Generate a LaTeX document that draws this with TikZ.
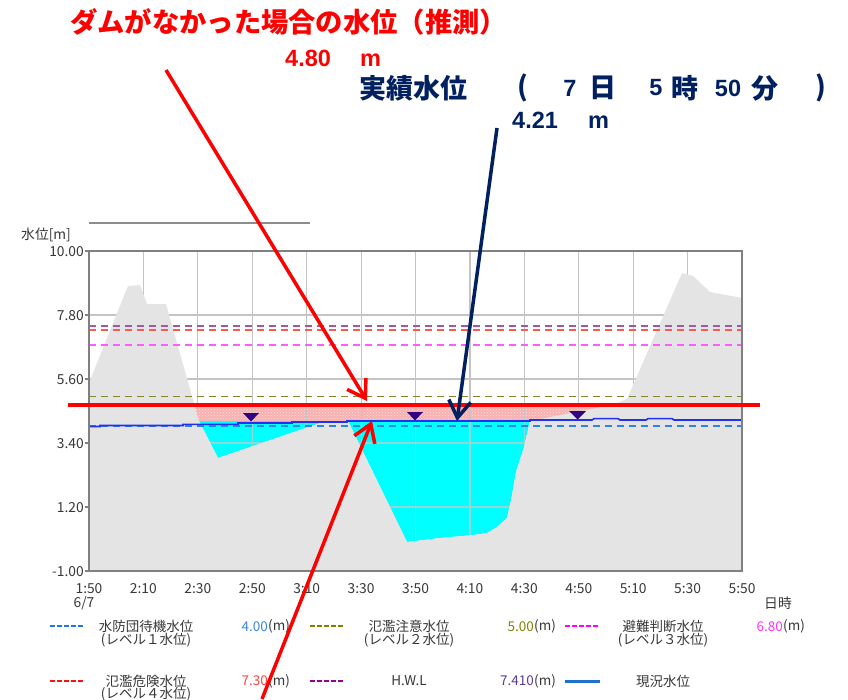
\documentclass[tikz,border=0pt]{standalone}
\usepackage{fontspec}
\setmainfont{Noto Sans CJK JP}
\newfontfamily\arialf{Liberation Sans}
\usetikzlibrary{patterns,arrows.meta}
\definecolor{navy}{HTML}{002060}
\definecolor{gridc}{HTML}{C4C4C4}
\definecolor{gridcy}{HTML}{8FD8D8}
\definecolor{groundc}{HTML}{E4E4E4}
\definecolor{pinkc}{HTML}{F7B0B0}
\definecolor{cyanc}{HTML}{00FFFF}
\definecolor{framec}{HTML}{808080}
\definecolor{txtc}{HTML}{383838}
\definecolor{lvA}{HTML}{2A84E8}
\definecolor{lvB}{HTML}{858530}
\definecolor{lvC}{HTML}{FF5CFF}
\definecolor{lvD}{HTML}{F85A5A}
\definecolor{lvE}{HTML}{A855A8}
\definecolor{lgA}{HTML}{1E78E0}
\definecolor{lgB}{HTML}{808000}
\definecolor{lgC}{HTML}{FF00FF}
\definecolor{lgD}{HTML}{FF1010}
\definecolor{lgE}{HTML}{990099}
\definecolor{nA}{HTML}{3C86DC}
\definecolor{nB}{HTML}{808000}
\definecolor{nC}{HTML}{FF33FF}
\definecolor{nD}{HTML}{FF4444}
\definecolor{nE}{HTML}{5A3CA0}
\definecolor{curc}{HTML}{1E32F0}
\definecolor{curlg}{HTML}{2070D0}
\definecolor{markc}{HTML}{300080}
\tikzset{
  gridline/.style={draw=gridc, line width=1.2pt},
  gridcyan/.style={draw=gridcy, line width=1.2pt},
  lvline/.style={dash pattern=on 7pt off 5pt, line width=2pt},
  lgline/.style={dash pattern=on 4.5pt off 2.6pt, line width=2.2pt},
  axlab/.style={inner sep=0pt, text=txtc, font=\fontsize{13.8}{15}\selectfont},
  lgtxt/.style={inner sep=0pt, text=txtc, font=\fontsize{13.5}{15}\selectfont},
  lgnum/.style={inner sep=0pt, font=\fontsize{13.5}{15}\selectfont},
  bigjp/.style={inner sep=0pt, font=\bfseries\fontsize{27}{30}\selectfont},
  bignum/.style={inner sep=0pt, font=\arialf\bfseries\fontsize{23.5}{26}\selectfont},
  arrowln/.style={line width=3.5pt, -{Straight Barb[length=17pt,width=22pt,line width=3.5pt]}},
  marktri/.style={fill=markc}
}
\begin{document}
\begin{tikzpicture}[x=1pt,y=-1pt]
\useasboundingbox (0,0) rectangle (848,699);
\fill[white] (0,0) rectangle (848,699);

% pink estimated band
\fill[pinkc] (190,405) rectangle (620,421);
\fill[pattern=crosshatch dots, pattern color=white!60!pinkc] (190,405) rectangle (620,421);

% cyan regions
\fill[cyanc] (199,421) -- (326,421) -- (218,458) -- cycle;
\fill[cyanc] (348,421) -- (530,421) -- (524,447) -- (516,472) -- (511,500) -- (507,518) -- (497,527) -- (487,533) -- (473,535) -- (440,538) -- (407,542) -- cycle;

% grid
\foreach \gx in {143.4,197.8,252.3,306.7,361.1,415.5,469.9,524.3,578.8,633.2,687.6}
  \draw[gridline] (\gx,251) -- (\gx,571);
\foreach \gy in {315,379,443,507}
  \draw[gridline] (89,\gy) -- (742,\gy);
\begin{scope}
\clip (199,421) -- (326,421) -- (218,458) -- cycle
      (348,421) -- (530,421) -- (524,447) -- (516,472) -- (511,500) -- (507,518) -- (497,527) -- (487,533) -- (473,535) -- (440,538) -- (407,542) -- cycle;
\foreach \gx in {143.4,197.8,252.3,306.7,361.1,415.5,469.9,524.3,578.8,633.2,687.6}
  \draw[gridcyan] (\gx,251) -- (\gx,571);
\foreach \gy in {315,379,443,507}
  \draw[gridcyan] (89,\gy) -- (742,\gy);
\end{scope}

% gray ground
\fill[groundc] (89,383) -- (128,286) -- (140,285) -- (147,304) -- (166,304) -- (199,421) -- (218,458) -- (326,421) -- (348,421) -- (407,542) -- (440,538) -- (473,535) -- (487,533) -- (497,527) -- (507,518) -- (511,500) -- (516,472) -- (524,447) -- (530,421) -- (612,405) -- (627,399) -- (682,273) -- (693,276) -- (710,292) -- (742,298) -- (742,571) -- (89,571) -- cycle;

% level lines
\draw[lvline, draw=lvE] (89,326.3) -- (742,326.3);
\draw[lvline, draw=lvD] (89,329.8) -- (742,329.8);
\draw[lvline, draw=lvC] (89,344.5) -- (742,344.5);
\draw[lvline, draw=lvB, line width=1.5pt] (89,396.5) -- (742,396.5);
\draw[lvline, draw=lvA, line width=1.5pt] (89,425.8) -- (742,425.8);

% current water level
\draw[curc, line width=1.6pt] (89,426.5) -- (100,426.5) -- (100,425.5) -- (183,425.5) -- (183,424.3) -- (238,424.3) -- (238,423) -- (292,423) -- (292,422) -- (347,422) -- (347,421) -- (530,421) -- (530,420) -- (592,420) -- (594,418.6) -- (618,418.6) -- (620,420) -- (646,420) -- (648,418.6) -- (672,418.6) -- (674,420) -- (742,420);

% markers
\fill[marktri] (243,413) -- (259,413) -- (251,421.5) -- cycle;
\fill[marktri] (407,412) -- (423,412) -- (415,420.5) -- cycle;
\fill[marktri] (569,411) -- (586,411) -- (577.5,419.5) -- cycle;

% frame
\draw[framec, line width=1.8pt] (89,251) rectangle (742,571);
\foreach \ty in {251,315,379,443,507,571}
  \draw[framec, line width=1.5pt] (85,\ty) -- (89,\ty);
\draw[framec!90, line width=1.3pt] (89,223) -- (310,223);

% axis labels
\node[axlab, anchor=west] (ylab) at (21,235) {水位[m]};
\node[axlab, anchor=east] (y1) at (84,252) {10.00};
\node[axlab, anchor=east] (y2) at (84,316) {7.80};
\node[axlab, anchor=east] (y3) at (84,380) {5.60};
\node[axlab, anchor=east] (y4) at (84,444) {3.40};
\node[axlab, anchor=east] (y5) at (84,508) {1.20};
\node[axlab, anchor=east] (y6) at (84,572) {-1.00};
\node[axlab] (x1) at (89,589) {1:50};
\node[axlab] (x2) at (143.4,589) {2:10};
\node[axlab] (x3) at (197.8,589) {2:30};
\node[axlab] (x4) at (252.3,589) {2:50};
\node[axlab] (x5) at (306.7,589) {3:10};
\node[axlab] (x6) at (361.1,589) {3:30};
\node[axlab] (x7) at (415.5,589) {3:50};
\node[axlab] (x8) at (469.9,589) {4:10};
\node[axlab] (x9) at (524.3,589) {4:30};
\node[axlab] (x10) at (578.8,589) {4:50};
\node[axlab] (x11) at (633.2,589) {5:10};
\node[axlab] (x12) at (687.6,589) {5:30};
\node[axlab] (x13) at (742,589) {5:50};
\node[axlab] (date) at (84,603) {6/7};
\node[axlab] (nichiji) at (778,603) {日時};

% legend
\draw[lgline, draw=lgA] (50,626) -- (85,626);
\node[lgtxt] (lA1) at (146,626.5) {水防団待機水位};
\node[lgtxt] (lA2) at (146,640) {(レベル１水位)};
\node[lgnum, text=nA, anchor=east] (nA1) at (268,626.5) {4.00};
\node[lgtxt, anchor=west] (mA) at (268,626.5) {(m)};

\draw[lgline, draw=lgB] (310,626) -- (345,626);
\node[lgtxt] (lB1) at (409,626.5) {氾濫注意水位};
\node[lgtxt] (lB2) at (409,640) {(レベル２水位)};
\node[lgnum, text=nB, anchor=east] (nB1) at (534,626.5) {5.00};
\node[lgtxt, anchor=west] (mB) at (534,626.5) {(m)};

\draw[lgline, draw=lgC] (565,626) -- (600,626);
\node[lgtxt] (lC1) at (663,626.5) {避難判断水位};
\node[lgtxt] (lC2) at (663,640) {(レベル３水位)};
\node[lgnum, text=nC, anchor=east] (nC1) at (783,626.5) {6.80};
\node[lgtxt, anchor=west] (mC) at (783,626.5) {(m)};

\draw[lgline, draw=lgD] (50,681) -- (85,681);
\node[lgtxt] (lD1) at (146,681) {氾濫危険水位};
\node[lgtxt] (lD2) at (146,694) {(レベル４水位)};
\node[lgnum, text=nD, anchor=east] (nD1) at (268,681) {7.30};
\node[lgtxt, anchor=west] (mD) at (268,681) {(m)};

\draw[lgline, draw=lgE] (310,681) -- (345,681);
\node[lgtxt] (lE1) at (409,681) {H.W.L};
\node[lgnum, text=nE, anchor=east] (nE1) at (534,681) {7.410};
\node[lgtxt, anchor=west] (mE) at (534,681) {(m)};

\draw[curlg, line width=3pt] (565,681) -- (600,681);
\node[lgtxt] (lF1) at (663,681) {現況水位};

% red estimate line
\draw[red, line width=4pt] (68,405) -- (760,405);

% header texts
\node[bigjp, text=red, anchor=west, font=\bfseries\fontsize{27.3}{30}\selectfont] (title) at (70,22) {ダムがなかった場合の水位（推測）};
\node[bignum, text=red, anchor=base west] (est) at (285,66) {4.80};
\node[bignum, text=red, anchor=base west] (estm) at (360,66) {m};
\node[bigjp, text=navy, anchor=west] (jis) at (359,88) {実績水位};
\node[bigjp, text=navy] (pl) at (523,88) {(};
\node[bignum, text=navy] (d7) at (570,88) {7};
\node[bigjp, text=navy] (hi) at (603,88) {日};
\node[bignum, text=navy] (h5) at (656,88) {5};
\node[bigjp, text=navy] (ji) at (685,88) {時};
\node[bignum, text=navy] (m50) at (728,88) {50};
\node[bigjp, text=navy] (fun) at (765,88) {分};
\node[bigjp, text=navy] (pr) at (821,88) {)};
\node[bignum, text=navy, anchor=base west] (act) at (512,128.5) {4.21};
\node[bignum, text=navy, anchor=base west] (actm) at (588,128.5) {m};

% arrows
\coordinate (a1s) at (166,70);
\coordinate (a1e) at (367,401);
\coordinate (a2s) at (497,128);
\coordinate (a2e) at (457,421);
\coordinate (a3s) at (262,699);
\coordinate (a3e) at (372,421);
\draw[arrowln, red] (a1s) -- (a1e);
\draw[arrowln, navy] (a2s) -- (a2e);
\draw[arrowln, red] (a3s) -- (a3e);
\end{tikzpicture}
\end{document}
